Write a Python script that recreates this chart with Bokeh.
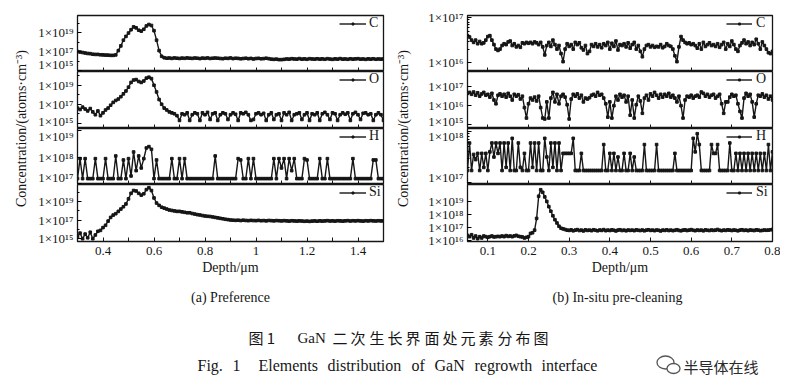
import math
from bokeh.plotting import figure
from bokeh.layouts import column, row
from bokeh.models import (Range1d, FixedTicker, CustomJSTickFormatter, Legend,
                          LegendItem, Label)
from bokeh.embed import file_html
from bokeh.resources import INLINE

SERIF = "Liberation Serif"
CJK = "Noto Sans CJK SC"
INK = "#161616"

# ---------------- data: (a) Preference ----------------
depth_a = [
    0.30, 0.31, 0.32, 0.33, 0.34, 0.35, 0.36, 0.37, 0.38, 0.39,
    0.40, 0.41, 0.42, 0.43, 0.44, 0.45, 0.46, 0.47, 0.48, 0.49,
    0.50, 0.51, 0.52, 0.53, 0.54, 0.55, 0.56, 0.57, 0.58, 0.59,
    0.60, 0.61, 0.62, 0.63, 0.64, 0.65, 0.66, 0.67, 0.68, 0.69,
    0.70, 0.71, 0.72, 0.73, 0.74, 0.75, 0.76, 0.77, 0.78, 0.79,
    0.80, 0.81, 0.82, 0.83, 0.84, 0.85, 0.86, 0.87, 0.88, 0.89,
    0.90, 0.91, 0.92, 0.93, 0.94, 0.95, 0.96, 0.97, 0.98, 0.99,
    1.00, 1.01, 1.02, 1.03, 1.04, 1.05, 1.06, 1.07, 1.08, 1.09,
    1.10, 1.11, 1.12, 1.13, 1.14, 1.15, 1.16, 1.17, 1.18, 1.19,
    1.20, 1.21, 1.22, 1.23, 1.24, 1.25, 1.26, 1.27, 1.28, 1.29,
    1.30, 1.31, 1.32, 1.33, 1.34, 1.35, 1.36, 1.37, 1.38, 1.39,
    1.40, 1.41, 1.42, 1.43, 1.44, 1.45, 1.46, 1.47, 1.48, 1.49,
    1.50]

# log10 of concentration (atoms/cm^3)
c_log_a = [
    17.0, 16.95, 16.9, 16.85, 16.8, 16.78, 16.72, 16.7, 16.7, 16.66,
    16.65, 16.63, 16.62, 16.6, 16.6, 16.65, 17.1, 17.6, 18.2, 18.6,
    18.95, 19.3, 19.6, 19.5, 19.25, 19.15, 19.35, 19.7, 19.85, 19.75,
    19.2, 18.2, 17.1, 16.5, 16.35, 16.3, 16.32, 16.28, 16.33, 16.3,
    16.27, 16.31, 16.29, 16.33, 16.3, 16.28, 16.32, 16.3, 16.26, 16.31,
    16.29, 16.33, 16.27, 16.3, 16.32, 16.3, 16.27, 16.25, 16.3, 16.28,
    16.33, 16.26, 16.3, 16.28, 16.24, 16.27, 16.3, 16.25, 16.28, 16.22,
    16.27, 16.29, 16.24, 16.26, 16.3, 16.25, 16.2, 16.18, 16.2, 16.15,
    16.15, 16.18, 16.22, 16.2, 16.25, 16.22, 16.2, 16.26, 16.2, 16.23,
    16.19, 16.25, 16.22, 16.2, 16.24, 16.2, 16.23, 16.19, 16.25, 16.21,
    16.18, 16.23, 16.2, 16.26, 16.2, 16.22, 16.19, 16.24, 16.2, 16.23,
    16.25, 16.2, 16.22, 16.18, 16.23, 16.2, 16.24, 16.19, 16.22, 16.2,
    16.22]

o_log_a = [
    16.6, 16.45, 16.7, 16.5, 16.3, 16.55, 16.2, 15.9, 16.3, 15.8,
    16.1, 16.4, 16.6, 16.9, 17.2, 17.4, 17.55, 17.8, 18.1, 18.4,
    18.8, 19.3, 19.55, 19.6, 19.4, 19.3, 19.45, 19.75, 19.85, 19.7,
    19.0, 18.3, 17.5, 17.0, 16.6, 16.4, 16.2, 16.1, 16.0, 15.8,
    15.3, 16.0, 15.9, 16.1, 15.3, 15.9, 16.1, 16.0, 15.3, 16.1,
    15.9, 16.15, 15.4, 16.0, 16.1, 15.3, 15.9, 16.1, 16.0, 15.4,
    15.9, 16.1, 15.95, 15.3, 16.1, 16.0, 16.15, 15.9, 15.3, 15.4,
    16.0, 16.1, 15.9, 16.05, 15.3, 15.9, 16.1, 15.4, 15.9, 16.0,
    15.3, 16.1, 15.9, 16.15, 15.3, 15.9, 16.0, 16.1, 15.4, 15.9,
    16.1, 15.3, 16.0, 15.9, 16.1, 15.3, 16.0, 16.15, 15.9, 15.4,
    16.1, 16.0, 15.3, 15.9, 16.1, 15.95, 16.1, 15.3, 16.0, 16.15,
    15.9, 15.4, 16.05, 16.1, 15.9, 16.0, 15.3, 15.9, 16.1, 15.9,
    15.3]

h_log_a = [
    17.2, 17.95, 17.2, 17.95, 17.2, 17.2, 17.2, 17.95, 17.2, 17.2,
    17.2, 17.95, 17.2, 17.2, 17.2, 18.05, 17.2, 17.2, 17.9, 17.2,
    17.95, 17.3, 18.2, 17.5, 18.05, 17.6, 17.95, 18.35, 18.4, 18.3,
    17.2, 17.9, 17.2, 17.2, 17.2, 17.2, 17.2, 17.95, 17.2, 17.2,
    17.95, 17.2, 17.95, 17.2, 17.2, 17.2, 17.2, 17.2, 17.2, 17.2,
    17.2, 17.2, 17.2, 17.2, 18.05, 17.2, 17.2, 17.2, 17.2, 17.2,
    17.2, 17.2, 17.2, 17.95, 17.9, 17.2, 17.2, 17.95, 17.2, 17.95,
    17.2, 17.2, 17.2, 17.2, 17.2, 17.2, 17.2, 17.95, 17.2, 17.95,
    17.6, 17.95, 17.2, 17.95, 17.5, 17.95, 17.2, 17.2, 17.2, 17.95,
    17.9, 17.2, 17.2, 17.2, 17.2, 17.95, 17.2, 17.2, 17.95, 17.2,
    17.2, 17.2, 17.2, 17.2, 17.2, 17.2, 17.2, 17.2, 17.95, 17.2,
    17.2, 17.2, 17.2, 17.2, 17.2, 17.2, 17.9, 17.9, 17.2, 17.2,
    17.2]

si_log_a = [
    15.2, 15.6, 15.0, 15.5, 15.1, 15.7, 15.0, 15.4, 15.8, 15.9,
    16.2, 16.45, 16.9, 17.3, 17.55, 17.7, 17.95, 18.2, 18.45, 18.75,
    19.3, 19.9, 20.2, 20.15, 19.9, 19.7, 19.85, 20.3, 20.5, 20.2,
    19.4, 18.85, 18.6, 18.4, 18.3, 18.2, 18.1, 18.05, 18.0, 17.95,
    17.95, 17.9, 17.85, 17.8, 17.8, 17.72, 17.66, 17.6, 17.56, 17.5,
    17.45, 17.42, 17.4, 17.35, 17.3, 17.25, 17.2, 17.15, 17.1, 17.06,
    17.02, 17.0, 16.98, 17.0, 16.96, 17.0, 16.97, 16.95, 16.98, 16.96,
    16.95, 16.98, 16.94, 16.96, 16.93, 16.97, 16.95, 16.93, 16.96, 16.94,
    16.92, 16.95, 16.93, 16.9, 16.94, 16.92, 16.9, 16.93, 16.91, 16.88,
    16.9, 16.87, 16.9, 16.92, 16.89, 16.93, 16.9, 16.92, 16.95, 16.91,
    16.93, 16.9, 16.94, 16.92, 16.9, 16.93, 16.95, 16.91, 16.94, 16.92,
    16.95, 16.92, 16.9, 16.94, 16.92, 16.95, 16.93, 16.91, 16.94, 16.92,
    16.93]

# ---------------- data: (b) In-situ pre-cleaning ----------------
depth_b = [
    0.050, 0.055, 0.060, 0.065, 0.070, 0.075, 0.080, 0.085, 0.090, 0.095,
    0.100, 0.105, 0.110, 0.115, 0.120, 0.125, 0.130, 0.135, 0.140, 0.145,
    0.150, 0.155, 0.160, 0.165, 0.170, 0.175, 0.180, 0.185, 0.190, 0.195,
    0.200, 0.205, 0.210, 0.215, 0.220, 0.225, 0.230, 0.235, 0.240, 0.245,
    0.250, 0.255, 0.260, 0.265, 0.270, 0.275, 0.280, 0.285, 0.290, 0.295,
    0.300, 0.305, 0.310, 0.315, 0.320, 0.325, 0.330, 0.335, 0.340, 0.345,
    0.350, 0.355, 0.360, 0.365, 0.370, 0.375, 0.380, 0.385, 0.390, 0.395,
    0.400, 0.405, 0.410, 0.415, 0.420, 0.425, 0.430, 0.435, 0.440, 0.445,
    0.450, 0.455, 0.460, 0.465, 0.470, 0.475, 0.480, 0.485, 0.490, 0.495,
    0.500, 0.505, 0.510, 0.515, 0.520, 0.525, 0.530, 0.535, 0.540, 0.545,
    0.550, 0.555, 0.560, 0.565, 0.570, 0.575, 0.580, 0.585, 0.590, 0.595,
    0.600, 0.605, 0.610, 0.615, 0.620, 0.625, 0.630, 0.635, 0.640, 0.645,
    0.650, 0.655, 0.660, 0.665, 0.670, 0.675, 0.680, 0.685, 0.690, 0.695,
    0.700, 0.705, 0.710, 0.715, 0.720, 0.725, 0.730, 0.735, 0.740, 0.745,
    0.750, 0.755, 0.760, 0.765, 0.770, 0.775, 0.780, 0.785, 0.790, 0.795,
    0.800]

c_log_b = [
    16.6, 16.57, 16.5, 16.45, 16.5, 16.42, 16.47, 16.42, 16.44, 16.5,
    16.58, 16.6, 16.5, 16.4, 16.3, 16.27, 16.3, 16.38, 16.42, 16.4,
    16.46, 16.48, 16.38, 16.42, 16.35, 16.38, 16.34, 16.44, 16.42, 16.45,
    16.43, 16.45, 16.42, 16.46, 16.44, 16.4, 16.45, 16.35, 16.17, 16.38,
    16.45, 16.36, 16.5, 16.4, 16.3, 16.38, 16.2, 16.02, 16.3, 16.42,
    16.36, 16.4, 16.3, 16.45, 16.4, 16.44, 16.33, 16.28, 16.38, 16.2,
    16.25, 16.4, 16.36, 16.42, 16.35, 16.4, 16.33, 16.42, 16.38, 16.45,
    16.3, 16.43, 16.36, 16.48, 16.28, 16.4, 16.38, 16.42, 16.35, 16.44,
    16.32, 16.4, 16.45, 16.3, 16.38, 16.25, 16.13, 16.3, 16.38, 16.4,
    16.35, 16.38, 16.34, 16.36, 16.35, 16.4, 16.33, 16.36, 16.42, 16.38,
    16.36, 16.3, 16.15, 16.02, 16.35, 16.58, 16.5, 16.45, 16.42, 16.44,
    16.4, 16.42, 16.38, 16.32, 16.42, 16.3, 16.45, 16.36, 16.4, 16.44,
    16.38, 16.4, 16.36, 16.42, 16.34, 16.4, 16.45, 16.3, 16.42, 16.36,
    16.48, 16.4, 16.3, 16.25, 16.38, 16.44, 16.5, 16.42, 16.46, 16.38,
    16.45, 16.4, 16.52, 16.42, 16.3, 16.46, 16.38, 16.3, 16.22, 16.2,
    16.25]

o_log_b = [
    16.65, 16.7, 16.6, 16.72, 16.55, 16.68, 16.5, 16.62, 16.7, 16.55,
    16.6, 16.45, 16.65, 16.3, 16.1, 16.55, 16.62, 16.5, 16.6, 16.45,
    16.65, 16.5, 16.3, 16.6, 16.5, 16.58, 16.35, 16.5, 15.9, 15.35,
    16.1, 16.4, 16.3, 16.45, 16.25, 16.5, 15.9, 15.35, 15.3, 16.2,
    15.35, 16.4, 16.7, 16.2, 16.6, 16.1, 16.5, 16.6, 16.45, 16.05,
    15.3, 16.35, 16.6, 16.5, 16.62, 16.4, 16.55, 16.2, 16.4, 16.35,
    16.42, 16.55, 16.6, 16.5, 16.7, 16.55, 16.6, 16.4, 16.1, 15.4,
    16.2, 15.35, 16.0, 16.5, 16.3, 16.6, 16.45, 16.55, 16.2, 16.5,
    15.5, 16.3, 15.35, 16.05, 16.5, 16.25, 15.6, 16.4, 16.55, 16.3,
    16.62, 16.5, 16.7, 16.55, 16.4, 16.6, 16.45, 16.6, 16.5, 16.65,
    16.45, 16.55, 16.4, 16.2, 16.5, 16.0, 15.35, 16.3, 16.5, 16.45,
    16.55, 16.4, 16.5, 16.55, 16.45, 16.72, 16.65, 16.5, 16.6, 16.45,
    16.55, 16.6, 16.4, 16.5, 16.6, 16.1, 15.6, 16.2, 16.2, 16.45,
    16.6, 16.5, 16.55, 16.1, 15.7, 15.35, 16.4, 16.65, 16.5, 16.6,
    16.2, 15.4, 16.1, 16.55, 16.5, 16.62, 16.45, 16.55, 16.35, 16.5,
    16.3]

h_log_b = [
    17.24, 17.77, 17.24, 17.55, 17.45, 17.57, 17.24, 17.57, 17.3, 17.57,
    17.24, 17.6, 17.77, 17.5, 17.77, 17.57, 17.77, 17.24, 17.77, 17.3,
    17.77, 17.24, 17.86, 17.24, 17.24, 17.77, 17.3, 17.24, 17.57, 17.24,
    17.24, 17.77, 17.3, 17.77, 17.24, 17.77, 17.24, 17.24, 17.86, 17.5,
    17.24, 17.77, 17.3, 17.77, 17.24, 17.77, 17.24, 17.57, 17.57, 17.57,
    17.57, 17.57, 17.86, 17.24, 17.24, 17.24, 17.57, 17.24, 17.24, 17.24,
    17.24, 17.24, 17.24, 17.24, 17.24, 17.24, 17.24, 17.74, 17.24, 17.24,
    17.57, 17.24, 17.57, 17.24, 17.5, 17.24, 17.24, 17.57, 17.24, 17.24,
    17.57, 17.24, 17.5, 17.24, 17.24, 17.24, 17.24, 17.74, 17.24, 17.24,
    17.24, 17.24, 17.24, 17.74, 17.24, 17.24, 17.24, 17.24, 17.24, 17.24,
    17.24, 17.24, 17.57, 17.24, 17.24, 17.24, 17.24, 17.24, 17.24, 17.24,
    17.24, 17.86, 17.6, 17.95, 17.74, 17.24, 17.24, 17.24, 17.24, 17.24,
    17.74, 17.57, 17.57, 17.74, 17.24, 17.24, 17.24, 17.24, 17.24, 17.77,
    17.24, 17.24, 17.57, 17.24, 17.57, 17.24, 17.57, 17.24, 17.57, 17.24,
    17.57, 17.24, 17.57, 17.24, 17.57, 17.24, 17.57, 17.24, 17.74, 17.24,
    17.6]

si_log_b = [
    16.4, 16.3, 16.45, 16.2, 16.35, 16.15, 16.3, 16.2, 16.35, 16.3,
    16.25, 16.3, 16.35, 16.28, 16.3, 16.32, 16.3, 16.35, 16.3, 16.38,
    16.32, 16.35, 16.3, 16.36, 16.4, 16.33, 16.3, 16.28, 16.2, 16.25,
    16.3, 16.55, 16.6, 16.8, 17.7, 19.4, 19.9, 19.7, 19.35, 19.0,
    18.6, 18.25, 17.9, 17.6, 17.35, 17.1, 16.95, 16.9, 16.85, 16.8,
    16.78, 16.82, 16.75, 16.8, 16.84, 16.77, 16.8, 16.74, 16.82, 16.78,
    16.8, 16.76, 16.83, 16.79, 16.75, 16.81, 16.78, 16.84, 16.76, 16.8,
    16.77, 16.82, 16.79, 16.74, 16.8, 16.83, 16.77, 16.8, 16.75, 16.81,
    16.78, 16.8, 16.76, 16.82, 16.79, 16.77, 16.81, 16.75, 16.8, 16.83,
    16.78, 16.8, 16.76, 16.81, 16.79, 16.74, 16.8, 16.78, 16.82, 16.77,
    16.8, 16.76, 16.79, 16.83, 16.78, 16.75, 16.8, 16.82, 16.77, 16.8,
    16.84, 16.79, 16.76, 16.81, 16.78, 16.8, 16.75, 16.82, 16.79, 16.77,
    16.81, 16.78, 16.8, 16.85, 16.79, 16.76, 16.8, 16.78, 16.82, 16.8,
    16.77, 16.81, 16.79, 16.75, 16.8, 16.83, 16.78, 16.8, 16.76, 16.81,
    16.79, 16.77, 16.82, 16.8, 16.76, 16.78, 16.81, 16.79, 16.8, 16.83,
    16.85]

# ---------------- axes / tick definitions ----------------
x_range_a = (0.3, 1.5)
x_ticks_a = [0.4, 0.6, 0.8, 1.0, 1.2, 1.4]
x_minor_a = [0.3, 0.5, 0.7, 0.9, 1.1, 1.3, 1.5]
x_range_b = (0.05, 0.8)
x_ticks_b = [0.1, 0.2, 0.3, 0.4, 0.5, 0.6, 0.7, 0.8]

elements = ["C", "O", "H", "Si"]
# y ranges as log10 limits
y_lim_a = [(14.9, 20.8), (14.45, 20.45), (16.98, 19.08), (14.7, 20.85)]
y_lim_b = [(15.8, 17.05), (14.8, 17.8), (16.97, 18.05), (15.93, 20.3)]
y_ticks_a = [[1e15, 1e17, 1e19], [1e15, 1e17, 1e19], [1e17, 1e18, 1e19], [1e15, 1e17, 1e19]]
y_minor_a = [[1e16, 1e18, 1e20], [1e16, 1e18, 1e20], [], [1e16, 1e18, 1e20]]
y_ticks_b = [[1e16, 1e17], [1e15, 1e16, 1e17], [1e17, 1e18], [1e16, 1e17, 1e18, 1e19]]
y_minor_b = [[2e16, 3e16, 4e16, 5e16, 6e16, 7e16, 8e16, 9e16], [],
             [2e17, 3e17, 4e17, 5e17, 6e17, 7e17, 8e17, 9e17], []]

ylabel_text = "Concentration/(atoms\u00b7cm\u207b\u00b3)"
xlabel_text = "Depth/\u03bcm"
caption_a = "(a) Preference"
caption_b = "(b) In-situ pre-cleaning"
cn_prefix = "图 1"
cn_words = ["GaN", "二", "次", "生", "长", "界", "面", "处", "元", "素", "分", "布", "图"]
en_words = ["Fig.", "1", "Elements", "distribution", "of", "GaN", "regrowth", "interface"]
watermark = "半导体在线"

SUP_FMT = CustomJSTickFormatter(code="""
const sup = {"0":"\u2070","1":"\u00b9","2":"\u00b2","3":"\u00b3","4":"\u2074",
             "5":"\u2075","6":"\u2076","7":"\u2077","8":"\u2078","9":"\u2079","-":"\u207b"};
const e = Math.round(Math.log10(tick));
return "1\u00d710" + String(e).split("").map(c => sup[c]).join("");
""")

FRAME_H = [56, 57, 56, 57]
TOP_BORDER = 15
BOTTOM_BORDER = 40


def make_panel(depth, logs, name, xr, xt, xm, ylim, yt, ym, frame_w, bl, br, idx,
               lab_w, gl_w, standoff):
    conc = [10 ** v for v in logs]
    bottom = idx == 3
    p = figure(frame_width=frame_w, frame_height=FRAME_H[idx], y_axis_type="log",
               x_range=Range1d(*xr), y_range=Range1d(10 ** ylim[0], 10 ** ylim[1]),
               output_backend="svg", toolbar_location=None,
               min_border_left=bl, min_border_right=br,
               min_border_top=TOP_BORDER if idx == 0 else 0,
               min_border_bottom=BOTTOM_BORDER if bottom else 0)
    p.grid.visible = False
    p.outline_line_color = INK
    p.outline_line_width = 1.3
    p.background_fill_color = "white"
    p.border_fill_color = "white"

    lr = p.line(depth, conc, line_color=INK, line_width=1.4)
    sr = p.scatter(depth, conc, marker="square", size=2.6, color=INK)

    ya = p.yaxis[0]
    ya.ticker = FixedTicker(ticks=yt, minor_ticks=ym)
    ya.formatter = SUP_FMT
    ya.major_tick_in = 4
    ya.major_tick_out = 0
    ya.minor_tick_in = 2
    ya.minor_tick_out = 0
    ya.major_label_standoff = 4
    ya.major_label_text_font = SERIF
    ya.major_label_text_font_size = "13px"
    ya.major_label_text_color = INK
    ya.axis_line_color = INK

    xa = p.xaxis[0]
    xa.major_tick_out = 0
    xa.minor_tick_out = 0
    xa.axis_line_color = INK
    xa.major_tick_line_color = INK
    xa.minor_tick_line_color = INK
    if bottom:
        xa.ticker = FixedTicker(ticks=xt, minor_ticks=xm)
        xa.major_tick_in = 4
        xa.minor_tick_in = 4
        xa.major_label_text_font = SERIF
        xa.major_label_text_font_size = "13px"
        xa.major_label_text_color = INK
        xa.major_label_standoff = 5
        xa.axis_label = xlabel_text
        xa.axis_label_text_font = SERIF
        xa.axis_label_text_font_size = "14px"
        xa.axis_label_text_font_style = "normal"
        xa.axis_label_text_color = INK
        xa.axis_label_standoff = 2
    else:
        # unlabeled tick marks on the shared boundary
        xa.ticker = FixedTicker(ticks=[], minor_ticks=xt + xm)
        xa.minor_tick_in = 4
        xa.major_label_standoff = 0

    legend = Legend(items=[LegendItem(label=name, renderers=[lr, sr])],
                    location="top_right", background_fill_alpha=0, border_line_alpha=0,
                    margin=0, padding=0, glyph_width=gl_w, glyph_height=5,
                    label_height=12, label_width=lab_w, label_standoff=standoff, spacing=0,
                    label_text_font=SERIF, label_text_font_size="14px",
                    label_text_color=INK)
    p.add_layout(legend)
    return p


series_a = [c_log_a, o_log_a, h_log_a, si_log_a]
series_b = [c_log_b, o_log_b, h_log_b, si_log_b]

panels_a = []
for i, name in enumerate(elements):
    panels_a.append(make_panel(depth_a, series_a[i], name, x_range_a, x_ticks_a, x_minor_a,
                               y_lim_a[i], y_ticks_a[i], y_minor_a[i], 306, 45, 12, i,
                               14, 27, 3))
panels_b = []
for i, name in enumerate(elements):
    panels_b.append(make_panel(depth_b, series_b[i], name, x_range_b, x_ticks_b, [],
                               y_lim_b[i], y_ticks_b[i], y_minor_b[i], 305, 49, 8, i,
                               16, 26, 4))

COL_H = TOP_BORDER + sum(FRAME_H) + BOTTOM_BORDER


def blank(w, h):
    f = figure(width=w, height=h, x_range=Range1d(0, w), y_range=Range1d(0, h),
               output_backend="svg", toolbar_location=None, min_border=0,
               x_axis_location=None, y_axis_location=None)
    f.grid.visible = False
    f.outline_line_color = None
    f.background_fill_color = "white"
    f.border_fill_color = "white"
    return f


def ylabel_fig(w, cx):
    f = blank(w, COL_H)
    f.add_layout(Label(x=cx, y=COL_H - 128, text=ylabel_text, angle=math.pi / 2,
                       text_align="center", text_baseline="middle",
                       text_font=SERIF, text_font_size="14px", text_color=INK))
    return f


ylab_a = ylabel_fig(32, 21)
ylab_b = ylabel_fig(23, 8)

CAP_H = 391 - COL_H
cap = blank(780, CAP_H)


def cap_text(x, y_top, text, font, size, align="left", color=INK):
    cap.add_layout(Label(x=x, y=CAP_H - y_top, text=text, text_align=align,
                         text_baseline="middle", text_font=font, text_font_size=size,
                         text_color=color))


cap_text(230, 16, caption_a, SERIF, "14px", "center")
cap_text(617, 16, caption_b, SERIF, "14px", "center")

cap_text(248, 56, cn_prefix, CJK, "15px")
cn_x = [297, 332, 350, 369, 387, 405, 424, 442, 460, 478, 497, 515, 533]
for xx, w in zip(cn_x, cn_words):
    if w == "GaN":
        cap_text(xx, 56, w, SERIF, "15px")
    else:
        cap_text(xx, 56, w, CJK, "15px")

en_x = [197, 232, 258, 327, 411, 434, 474, 541]
for xx, w in zip(en_x, en_words):
    cap_text(xx, 84, w, SERIF, "16px")

# WeChat-style watermark icon (two speech bubbles) beside the watermark text
icon_x = [665, 673]
icon_y_top = [81, 87]
icon_w = [17, 13]
icon_h = [13, 10]
cap.ellipse(x=icon_x, y=[CAP_H - v for v in icon_y_top], width=icon_w, height=icon_h,
            fill_color="white", line_color="#555555", line_width=1.3)
cap_text(683, 85, watermark, CJK, "15px", color="#2a2a2a")

layout = column(row(ylab_a, column(*panels_a), ylab_b, column(*panels_b)), cap)

with open("out.html", "w", encoding="utf-8") as fh:
    fh.write(file_html(layout, INLINE))
